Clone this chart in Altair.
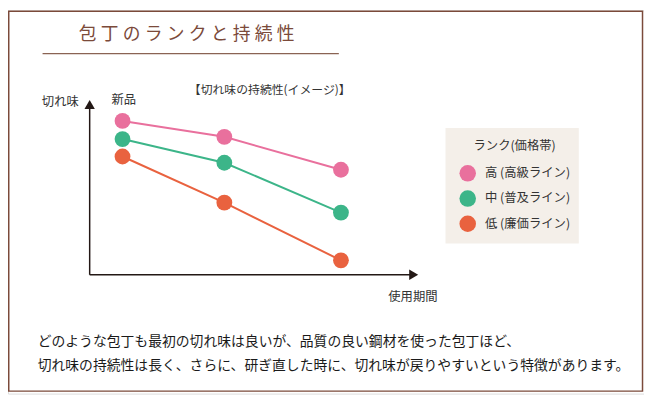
import altair as alt
import pandas as pd

# ---- data ----
periods = [1.0, 4.1, 7.65]
ranks = ["高 (高級ライン)", "中 (普及ライン)", "低 (廉価ライン)"]
sharp_high = [88.3, 79.2, 60.3]
sharp_mid = [77.9, 64.3, 35.7]
sharp_low = [67.9, 41.4, 8.3]
colors = ["#e9709d", "#3cb589", "#e9623f"]

title_text = "包丁のランクと持続性"
chart_caption = "【切れ味の持続性(イメージ)】"
y_label = "切れ味"
new_label = "新品"
x_label = "使用期間"
legend_title = "ランク(価格帯)"
body_lines = [
    "どのような包丁も最初の切れ味は良いが、品質の良い鋼材を使った包丁ほど、",
    "切れ味の持続性は長く、さらに、研ぎ直した時に、切れ味が戻りやすいという特徴があります。",
]

FONT = "Noto Sans CJK JP"
BROWN = "#7b4a3a"
AX = "#231815"
TXT = "#333333"

rows = []
for r, vals in zip(ranks, [sharp_high, sharp_mid, sharp_low]):
    for p, v in zip(periods, vals):
        rows.append({"rank": r, "period": p, "sharp": v})
df = pd.DataFrame(rows)

one = pd.DataFrame({"k": [0]})
title_df = pd.DataFrame({"ch": list(title_text), "i": list(range(len(title_text)))})

xs = alt.Scale(domain=[0, 10], range=[82.7, 415.3])
ys = alt.Scale(domain=[0, 100], range=[267.7, 91.3])

border = alt.Chart(one).mark_rect(fill="white", stroke=BROWN, strokeWidth=1.5).encode(
    x=alt.value(0.75), x2=alt.value(642.5), y=alt.value(0.75), y2=alt.value(385.5)
)

title = alt.Chart(title_df).mark_text(
    font=FONT, fontSize=18, color=BROWN, baseline="middle", align="center"
).encode(
    x=alt.X("i:Q", scale=alt.Scale(domain=[0, 9], range=[80.5, 281]), axis=None),
    y=alt.value(25),
    text="ch:N",
)

underline = alt.Chart(one).mark_rule(color="#8a6353", strokeWidth=1.2).encode(
    x=alt.value(35), x2=alt.value(335), y=alt.value(43.7)
)

yaxis = alt.Chart(one).mark_rule(color=AX, strokeWidth=1.5).encode(
    x=alt.value(82.7), y=alt.value(267.7), y2=alt.value(98)
)
xaxis = alt.Chart(one).mark_rule(color=AX, strokeWidth=1.5).encode(
    x=alt.value(82.7), x2=alt.value(408), y=alt.value(267.7)
)
yarrow = alt.Chart(one).mark_point(shape="triangle-up", filled=True, color=AX, size=110, opacity=1).encode(
    x=alt.value(82.7), y=alt.value(95.3)
)
xarrow = alt.Chart(one).mark_point(shape="triangle-right", filled=True, color=AX, size=110, opacity=1).encode(
    x=alt.value(410.8), y=alt.value(267.7)
)

def label(txt, x, y, size, align="center", color=TXT):
    return alt.Chart(one).mark_text(
        font=FONT, fontSize=size, color=color, align=align, baseline="middle"
    ).encode(x=alt.value(x), y=alt.value(y), text=alt.value(txt))

labels = [
    label(y_label, 53, 92.7, 12.5),
    label(new_label, 117.3, 90.3, 12.5),
    label(chart_caption, 265, 80.3, 12),
    label(x_label, 410, 290, 12.5),
    label(body_lines[0], 30, 336, 14, align="left", color="#1a1a1a"),
    label(body_lines[1], 30, 360.5, 14, align="left", color="#1a1a1a"),
]

legend_bg = alt.Chart(one).mark_rect(fill="#f4efe9").encode(
    x=alt.value(443), x2=alt.value(578), y=alt.value(119), y2=alt.value(236)
)

legend = alt.Legend(
    title=legend_title,
    orient="none",
    legendX=457,
    legendY=131,
    padding=0,
    symbolSize=280,
    symbolType="circle",
    symbolStrokeWidth=0,
    symbolOpacity=1,
    labelFont=FONT,
    labelFontSize=12.5,
    labelColor=TXT,
    labelOffset=9,
    titleFont=FONT,
    titleFontSize=12.5,
    titleFontWeight="normal",
    titleColor=TXT,
    titleAnchor="middle",
    titlePadding=13,
    rowPadding=8.5,
)

color_scale = alt.Scale(domain=ranks, range=colors)

lines = alt.Chart(df).mark_line(strokeWidth=2).encode(
    x=alt.X("period:Q", scale=xs, axis=None),
    y=alt.Y("sharp:Q", scale=ys, axis=None),
    stroke=alt.Stroke("rank:N", scale=color_scale, legend=legend),
    detail="rank:N",
)

points = alt.Chart(df).mark_point(filled=True, size=256, opacity=1, shape="circle").encode(
    x=alt.X("period:Q", scale=xs, axis=None),
    y=alt.Y("sharp:Q", scale=ys, axis=None),
    fill=alt.Fill("rank:N", scale=color_scale, legend=legend),
)

chart = alt.layer(
    border, title, underline, yaxis, xaxis, yarrow, xarrow, *labels, legend_bg, lines, points
).resolve_scale(x="independent", y="independent").properties(
    width=644, height=388, autosize=alt.AutoSizeParams(type="none"), padding=0
).configure_view(stroke=None).configure(background="white")

chart.save("out.html", embed_options={"renderer": "svg", "actions": False})
